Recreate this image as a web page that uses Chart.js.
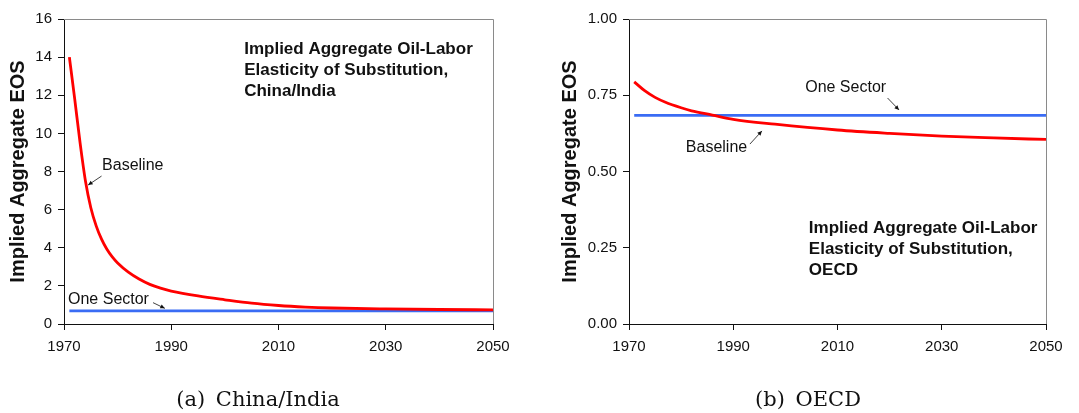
<!DOCTYPE html>
<html>
<head>
<meta charset="utf-8">
<script src="https://cdn.jsdelivr.net/npm/chart.js@4.4.0/dist/chart.umd.min.js"></script>
<style>
  html, body { margin: 0; padding: 0; background: #fff; }
  #wrap { position: relative; width: 1079px; height: 413px; overflow: hidden; }
  canvas { position: absolute; top: 0; }
  #c1 { left: 0; }
  #c2 { left: 540px; }
  .cap {
    position: absolute; top: 389px; width: 300px; text-align: center;
    font-family: "DejaVu Serif", serif; font-size: 21px; line-height: 21px;
    color: #111; word-spacing: 4px;
  }
</style>
</head>
<body>
<div id="wrap">
  <canvas id="c1" width="540" height="413"></canvas>
  <canvas id="c2" width="539" height="413"></canvas>
  <div class="cap" style="left:108px">(a) China/India</div>
  <div class="cap" style="left:658px">(b) OECD</div>
</div>
<script>
// --- DATOS ---
const YEARS_A = [1971, 1972, 1973, 1974, 1975, 1976, 1977, 1978, 1979, 1980, 1982, 1984, 1986, 1988, 1990,
                 1995, 2000, 2005, 2010, 2015, 2020, 2030, 2040, 2050];
const BASELINE_A = [14.0, 11.8, 9.5, 7.5, 6.1, 5.15, 4.45, 3.92, 3.52, 3.2, 2.72, 2.36, 2.08, 1.88, 1.73,
                    1.47, 1.27, 1.09, 0.97, 0.89, 0.84, 0.79, 0.76, 0.74];
const ONE_SECTOR_YEARS = [1971, 2050];
const ONE_SECTOR_A = [0.69, 0.69];

const YEARS_B = [1971, 1973, 1975, 1977, 1980, 1982, 1986, 1990, 1998, 2010, 2020, 2030, 2040, 2050];
const BASELINE_B = [0.794, 0.765, 0.743, 0.727, 0.709, 0.699, 0.685, 0.671, 0.655, 0.636, 0.625, 0.616, 0.610, 0.605];
const ONE_SECTOR_B = [0.684, 0.684];

const X_TICKS = [1970, 1990, 2010, 2030, 2050];
const TITLE_A = ['Implied Aggregate Oil-Labor', 'Elasticity of Substitution,', 'China/India'];
const TITLE_B = ['Implied Aggregate Oil-Labor', 'Elasticity of Substitution,', 'OECD'];
const Y_TITLE = 'Implied Aggregate EOS';

// anotaciones en unidades de datos (año, valor)
const NOTES_A = [
  { lines: TITLE_A, x: 2003.6, y: 14.43, bold: true },
  { lines: ['Baseline'], x: 1977.1, y: 8.29 },
  { lines: ['One Sector'], x: 1970.75, y: 1.26 }
];
const ARROWS_A = [
  { from: [1977.0, 7.76], to: [1974.5, 7.29] },
  { from: [1986.6, 1.12], to: [1988.8, 0.82] }
];
const NOTES_B = [
  { lines: TITLE_B, x: 2004.5, y: 0.315, bold: true },
  { lines: ['One Sector'], x: 2003.8, y: 0.774 },
  { lines: ['Baseline'], x: 1980.9, y: 0.580 }
];
const ARROWS_B = [
  { from: [2019.6, 0.741], to: [2021.8, 0.702] },
  { from: [1993.2, 0.590], to: [1995.5, 0.633] }
];

const RED = '#ff0000';
const BLUE = '#3a6cf4';
const FONT = '"Liberation Sans", Arial, sans-serif';

const pts = (xs, ys) => xs.map((x, i) => ({ x: x, y: ys[i] }));

// borde gris arriba y a la derecha + anotaciones
const extras = {
  id: 'extras',
  afterDraw(chart, args, opts) {
    const { ctx, chartArea: a, scales } = chart;
    ctx.save();
    ctx.strokeStyle = '#8a8a8a';
    ctx.lineWidth = 1;
    ctx.beginPath();
    ctx.moveTo(a.left, a.top + 0.5);
    ctx.lineTo(a.right + 0.5, a.top + 0.5);
    ctx.lineTo(a.right + 0.5, a.bottom);
    ctx.stroke();

    ctx.fillStyle = '#111';
    ctx.textAlign = 'left';
    ctx.textBaseline = 'middle';
    opts.notes.forEach(n => {
      ctx.font = (n.bold ? 'bold 17px ' : '16px ') + FONT;
      const px = scales.x.getPixelForValue(n.x);
      const py = scales.y.getPixelForValue(n.y);
      n.lines.forEach((t, i) => ctx.fillText(t, px, py + i * 21));
    });

    ctx.strokeStyle = '#111';
    ctx.lineWidth = 0.8;
    opts.arrows.forEach(ar => {
      const x0 = scales.x.getPixelForValue(ar.from[0]), y0 = scales.y.getPixelForValue(ar.from[1]);
      const x1 = scales.x.getPixelForValue(ar.to[0]), y1 = scales.y.getPixelForValue(ar.to[1]);
      const ang = Math.atan2(y1 - y0, x1 - x0);
      ctx.beginPath();
      ctx.moveTo(x0, y0);
      ctx.lineTo(x1, y1);
      ctx.stroke();
      ctx.beginPath();
      ctx.moveTo(x1, y1);
      ctx.lineTo(x1 - 5 * Math.cos(ang - 0.45), y1 - 5 * Math.sin(ang - 0.45));
      ctx.lineTo(x1 - 5 * Math.cos(ang + 0.45), y1 - 5 * Math.sin(ang + 0.45));
      ctx.closePath();
      ctx.fill();
    });
    ctx.restore();
  }
};

function makeChart(id, cfg) {
  return new Chart(document.getElementById(id), {
    type: 'line',
    data: {
      datasets: [
        { data: pts(cfg.years, cfg.baseline), borderColor: RED, borderWidth: 2.8,
          pointRadius: 0, cubicInterpolationMode: 'monotone', fill: false },
        { data: pts(ONE_SECTOR_YEARS, cfg.oneSector), borderColor: BLUE, borderWidth: 2.8,
          pointRadius: 0, fill: false }
      ]
    },
    options: {
      responsive: false,
      animation: false,
      layout: { padding: { left: 0, top: 19, right: cfg.padRight, bottom: 49 } },
      plugins: {
        legend: { display: false },
        tooltip: { enabled: false },
        extras: { notes: cfg.notes, arrows: cfg.arrows }
      },
      scales: {
        x: {
          type: 'linear', min: 1970, max: 2050,
          afterBuildTicks: s => { s.ticks = X_TICKS.map(v => ({ value: v })); },
          afterFit: s => { s.height = 40; },
          grid: { drawOnChartArea: false, tickLength: 6, color: '#111' },
          border: { color: '#111', width: 1 },
          ticks: { color: '#111', font: { family: FONT, size: 15 }, padding: 8, maxRotation: 0,
                   callback: v => String(v) }
        },
        y: {
          min: 0, max: cfg.yMax,
          afterBuildTicks: s => { s.ticks = cfg.yTicks.map(v => ({ value: v })); },
          afterFit: s => { s.width = cfg.yWidth; },
          grid: { drawOnChartArea: false, tickLength: 6, color: '#111' },
          border: { color: '#111', width: 1 },
          ticks: { color: '#111', font: { family: FONT, size: 15 }, padding: 6,
                   callback: v => cfg.fmt(v) },
          title: { display: true, text: Y_TITLE, color: '#111',
                   font: { family: FONT, size: 20, weight: 'bold' },
                   padding: { top: cfg.titlePad, bottom: 0 } }
        }
      }
    },
    plugins: [extras]
  });
}

makeChart('c1', {
  years: YEARS_A, baseline: BASELINE_A, oneSector: ONE_SECTOR_A,
  yMax: 16, yTicks: [0, 2, 4, 6, 8, 10, 12, 14, 16], fmt: v => String(v),
  yWidth: 64, padRight: 47, titlePad: 6, notes: NOTES_A, arrows: ARROWS_A
});

makeChart('c2', {
  years: YEARS_B, baseline: BASELINE_B, oneSector: ONE_SECTOR_B,
  yMax: 1, yTicks: [0, 0.25, 0.5, 0.75, 1], fmt: v => v.toFixed(2),
  yWidth: 89, padRight: 33, titlePad: 18, notes: NOTES_B, arrows: ARROWS_B
});
</script>
</body>
</html>
